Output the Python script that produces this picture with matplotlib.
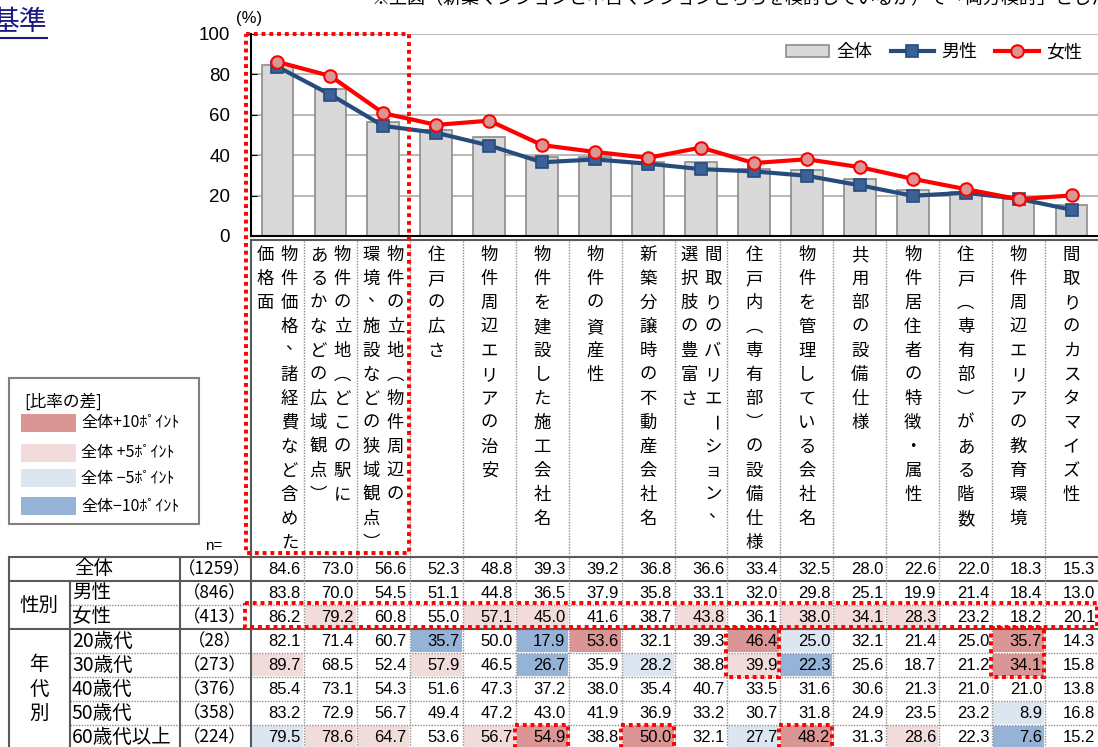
import matplotlib
matplotlib.use('Agg')
import matplotlib.pyplot as plt
from matplotlib.patches import Rectangle

plt.rcParams['font.family'] = ['Noto Sans CJK JP', 'DejaVu Sans']

# ---- data ----
items = [
    ["物件価格、諸経費など含めた", "価格面"],
    ["物件の立地（どこの駅に", "あるかなどの広域観点）"],
    ["物件の立地（物件周辺の", "環境、施設などの狭域観点）"],
    ["住戸の広さ"],
    ["物件周辺エリアの治安"],
    ["物件を建設した施工会社名"],
    ["物件の資産性"],
    ["新築分譲時の不動産会社名"],
    ["間取りのバリエーション、", "選択肢の豊富さ"],
    ["住戸内（専有部）の設備仕様"],
    ["物件を管理している会社名"],
    ["共用部の設備仕様"],
    ["物件居住者の特徴・属性"],
    ["住戸（専有部）がある階数"],
    ["物件周辺エリアの教育環境"],
    ["間取りのカスタマイズ性"],
]
total  = [84.6, 73.0, 56.6, 52.3, 48.8, 39.3, 39.2, 36.8, 36.6, 33.4, 32.5, 28.0, 22.6, 22.0, 18.3, 15.3]
male   = [83.8, 70.0, 54.5, 51.1, 44.8, 36.5, 37.9, 35.8, 33.1, 32.0, 29.8, 25.1, 19.9, 21.4, 18.4, 13.0]
female = [86.2, 79.2, 60.8, 55.0, 57.1, 45.0, 41.6, 38.7, 43.8, 36.1, 38.0, 34.1, 28.3, 23.2, 18.2, 20.1]
age20  = [82.1, 71.4, 60.7, 35.7, 50.0, 17.9, 53.6, 32.1, 39.3, 46.4, 25.0, 32.1, 21.4, 25.0, 35.7, 14.3]
age30  = [89.7, 68.5, 52.4, 57.9, 46.5, 26.7, 35.9, 28.2, 38.8, 39.9, 22.3, 25.6, 18.7, 21.2, 34.1, 15.8]
age40  = [85.4, 73.1, 54.3, 51.6, 47.3, 37.2, 38.0, 35.4, 40.7, 33.5, 31.6, 30.6, 21.3, 21.0, 21.0, 13.8]
age50  = [83.2, 72.9, 56.7, 49.4, 47.2, 43.0, 41.9, 36.9, 33.2, 30.7, 31.8, 24.9, 23.5, 23.2, 8.9, 16.8]
age60  = [79.5, 78.6, 64.7, 53.6, 56.7, 54.9, 38.8, 50.0, 32.1, 27.7, 48.2, 31.3, 28.6, 22.3, 7.6, 15.2]
rows = [total, male, female, age20, age30, age40, age50, age60]
row_labels = ["全体", "男性", "女性", "20歳代", "30歳代", "40歳代", "50歳代", "60歳代以上"]
n_counts = [1259, 846, 413, 28, 273, 376, 358, 224]
diff_labels = ["全体+10ﾎﾟｲﾝﾄ", "全体 +5ﾎﾟｲﾝﾄ", "全体 −5ﾎﾟｲﾝﾄ", "全体−10ﾎﾟｲﾝﾄ"]
diff_colors = ['#da9694', '#f2dcdb', '#dce6f1', '#95b3d7']

W, H = 1098, 747
fig = plt.figure(figsize=(W / 100, H / 100), dpi=100)

# ---- chart ----
X0, X1 = 251, 1098
ax = fig.add_axes([X0 / W, 1 - 236 / H, (X1 - X0) / W, 202 / H])
x = list(range(len(total)))
bars = ax.bar(x, total, width=0.6, color='#d9d9d9', edgecolor='#8c8c8c', linewidth=1.2,
              label='全体', zorder=2)
lm, = ax.plot(x, male, color='#264b7d', lw=3, marker='s', ms=9, mfc='#3b6196', mec='#264b7d',
              mew=1.2, label='男性', zorder=3)
lf, = ax.plot(x, female, color='#ff0000', lw=3, marker='o', ms=9, mfc='#d99694', mec='#ff0000',
              mew=1.5, label='女性', zorder=4)
ax.set_xlim(-0.5, len(total) - 0.5)
ax.set_ylim(0, 100)
ax.set_yticks(range(0, 101, 20))
ax.set_xticks([])
ax.yaxis.grid(True, color='#b3b3b3', lw=1.3)
ax.set_axisbelow(True)
for s in ['top', 'right']:
    ax.spines[s].set_visible(False)
ax.spines['left'].set_color('black')
ax.spines['left'].set_linewidth(1.5)
ax.spines['bottom'].set_color('black')
ax.spines['bottom'].set_linewidth(1.5)
ax.tick_params(axis='y', direction='in', length=4, pad=15, labelsize=13.5)
for t in ax.get_yticklabels():
    t.set_family('Liberation Sans')
ax.legend([bars, lm, lf], ['全体', '男性', '女性'], loc='center right',
          bbox_to_anchor=(1.0, 0.91), ncol=3, frameon=False,
          fontsize=13, handlelength=2.4, columnspacing=1.0, handletextpad=0.4)

# ---- overlay in pixel coordinates ----
ov = fig.add_axes([0, 0, 1, 1], zorder=5)
ov.set_xlim(0, W)
ov.set_ylim(H, 0)
ov.axis('off')
ov.patch.set_alpha(0)

ov.text(249, 18, "(%)", fontsize=12, ha='center', va='center', family='Liberation Sans')
ov.text(47, 22, "基準", fontsize=20, ha='right', va='center', color='#1a1a80')
ov.plot([0, 47], [38, 38], color='#1a1a80', lw=1.5)
ov.text(372, -1, "※上図（新築マンションと中古マンションどちらを検討しているか）で「両方検討」とした",
        fontsize=13, ha='left', va='center')

cw = (X1 - X0) / len(total)
xs = [X0 + i * cw for i in range(len(total) + 1)]
ys = [557 + i * 24 for i in range(len(rows) + 1)]
solid = dict(color='#595959', lw=1.5)
dotted = dict(color='#8c8c8c', lw=1.0, linestyle=(0, (1, 1)))

# header label cells (vertical writing)
vert = {"（": "︵", "）": "︶"}
ov.plot([X0, X1], [240, 240], **solid)
for j, lines in enumerate(items):
    cx = (xs[j] + xs[j + 1]) / 2
    offs = [0] if len(lines) == 1 else [12, -12]
    for line, off in zip(lines, offs):
        for k, ch in enumerate(line):
            cy = 255 + k * 24
            rot = 0
            dx, dy = 0, 0
            if ch == "ー":
                rot = 270
            if ch == "、":
                dx, dy = 4, -7
            ov.text(cx + off + dx, cy + dy, vert.get(ch, ch), fontsize=12.5, ha='center',
                    va='center', rotation=rot, rotation_mode='anchor')

# cell fills
for i in range(1, len(rows)):
    for j, v in enumerate(rows[i]):
        d = v - total[j]
        c = None
        if d >= 10:
            c = diff_colors[0]
        elif d >= 5:
            c = diff_colors[1]
        elif d <= -10:
            c = diff_colors[3]
        elif d <= -5:
            c = diff_colors[2]
        if c:
            ov.add_patch(Rectangle((xs[j] + 1, ys[i] + 1), cw - 2, 22, color=c, lw=0, zorder=1))

# numbers and row labels
for i, r in enumerate(rows):
    cy = (ys[i] + ys[i + 1]) / 2
    for j, v in enumerate(r):
        ov.text(xs[j + 1] - 3, cy + 1, "%.1f" % v, fontsize=12, ha='right', va='center',
                family='Liberation Sans', zorder=3)
    ov.text(215, cy, "（%d）" % n_counts[i], fontsize=12.5, ha='center', va='center', zorder=3)
    if i == 0:
        ov.text(94, cy, row_labels[i], fontsize=14, ha='center', va='center', zorder=3)
    else:
        ov.text(72, cy, row_labels[i], fontsize=14, ha='left', va='center', zorder=3)

ov.text(39, ys[2], "性別", fontsize=14, ha='center', va='center')
for k, ch in enumerate("年代別"):
    ov.text(39, (ys[3] + ys[8]) / 2 - 24 + k * 24, ch, fontsize=14, ha='center', va='center')
ov.text(214, 546, "n=", fontsize=11, ha='center', va='center', family='Liberation Sans')

# grid lines of the table
ov.plot([9, X1], [ys[0], ys[0]], zorder=2, **solid)
ov.plot([9, X1], [ys[1], ys[1]], zorder=2, **solid)
ov.plot([9, X1], [ys[3], ys[3]], zorder=2, **solid)
for i in [2, 4, 5, 6, 7]:
    ov.plot([70, X1], [ys[i], ys[i]], zorder=2, **dotted)
ov.plot([9, 9], [ys[0], H], zorder=2, **solid)
ov.plot([70, 70], [ys[1], H], zorder=2, **solid)
ov.plot([180, 180], [ys[0], H], zorder=2, **solid)
ov.plot([X0, X0], [240, H], zorder=2, **solid)
for j in range(1, len(total)):
    ov.plot([xs[j], xs[j]], [241, H], zorder=2, **dotted)

# legend of the colour rule
ov.add_patch(Rectangle((9, 378), 190, 146, fill=False, edgecolor='#808080', lw=1.5))
ov.text(24, 402, "[比率の差]", fontsize=12, ha='left', va='center')
for k, (lab, c) in enumerate(zip(diff_labels, diff_colors)):
    yy = [423, 453, 478, 506][k]
    ov.add_patch(Rectangle((21, yy - 9), 55, 18, color=c, lw=0))
    ov.text(81, yy, lab, fontsize=11.5, ha='left', va='center')

# red dotted highlight boxes
red = dict(fill=False, edgecolor='#ff0000', lw=2.8, linestyle=(0, (1, 1)), zorder=6)
ov.add_patch(Rectangle((246, 34), 163, 519, **red))
ov.add_patch(Rectangle((245, 603), 852, 24, **red))
for j in [9, 14]:
    ov.add_patch(Rectangle((xs[j] - 1, 628), cw, 49, **red))
for j in [5, 7, 10]:
    ov.add_patch(Rectangle((xs[j] - 1, 725), cw, 30, **red))

fig.savefig("out.png", dpi=100)
